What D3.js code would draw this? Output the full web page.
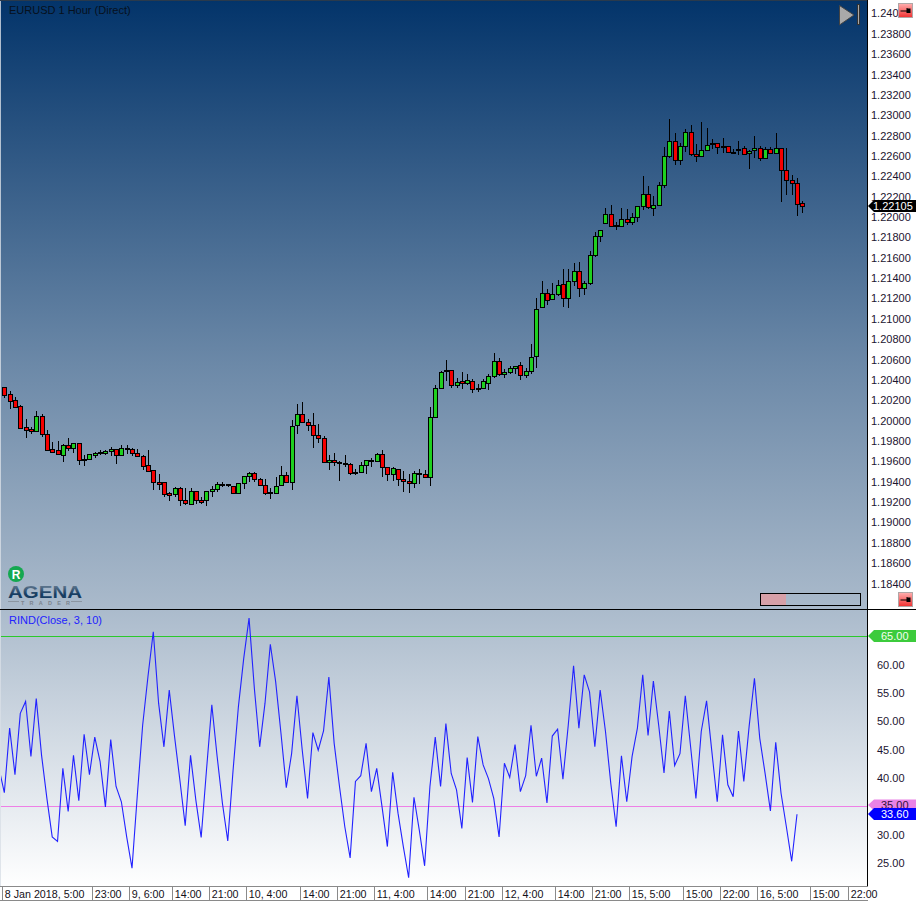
<!DOCTYPE html>
<html><head><meta charset="utf-8">
<style>
html,body{margin:0;padding:0;background:#fff}
svg{display:block}
text{font-family:"Liberation Sans",Arial,sans-serif}
</style>
<script src="https://cdn.jsdelivr.net/npm/d3@7/dist/d3.min.js"></script>
</head><body><svg id="c" width="916" height="901"></svg>
<script>
const opens=[1.20327,1.20258,1.20199,1.20140,1.19934,1.19914,1.19901,1.20042,1.19865,1.19718,1.19708,1.19665,1.19757,1.19728,1.19777,1.19626,1.19626,1.19665,1.19688,1.19679,1.19698,1.19718,1.19665,1.19728,1.19718,1.19685,1.19656,1.19561,1.19512,1.19394,1.19394,1.19286,1.19282,1.19335,1.19217,1.19178,1.19305,1.19217,1.19217,1.19305,1.19325,1.19374,1.19374,1.19361,1.19286,1.19384,1.19453,1.19482,1.19424,1.19365,1.19296,1.19286,1.19365,1.19463,1.19394,1.19954,1.20062,1.19983,1.19954,1.19856,1.19826,1.19591,1.19610,1.19591,1.19581,1.19571,1.19482,1.19499,1.19561,1.19610,1.19600,1.19669,1.19541,1.19473,1.19522,1.19424,1.19404,1.19384,1.19482,1.19473,1.19443,1.20039,1.20317,1.20494,1.20494,1.20347,1.20386,1.20366,1.20386,1.20317,1.20317,1.20366,1.20435,1.20582,1.20455,1.20474,1.20514,1.20543,1.20445,1.20484,1.20632,1.21113,1.21250,1.21191,1.21241,1.21339,1.21201,1.21375,1.21473,1.21299,1.21349,1.21624,1.21817,1.21944,1.22026,1.21918,1.21908,1.21977,1.21948,1.21997,1.22105,1.22223,1.22085,1.22115,1.22311,1.22596,1.22743,1.22557,1.22694,1.22832,1.22616,1.22596,1.22655,1.22724,1.22724,1.22694,1.22694,1.22642,1.22665,1.22674,1.22625,1.22655,1.22674,1.22576,1.22665,1.22625,1.22674,1.22458,1.22360,1.22331,1.22134];
const closes=[1.20255,1.20196,1.20137,1.19931,1.19911,1.19901,1.20042,1.19865,1.19715,1.19695,1.19675,1.19757,1.19728,1.19777,1.19616,1.19616,1.19669,1.19679,1.19679,1.19698,1.19718,1.19665,1.19728,1.19718,1.19685,1.19656,1.19557,1.19508,1.19394,1.19381,1.19282,1.19272,1.19335,1.19217,1.19187,1.19305,1.19217,1.19204,1.19305,1.19325,1.19374,1.19365,1.19365,1.19286,1.19384,1.19453,1.19482,1.19424,1.19365,1.19286,1.19286,1.19355,1.19463,1.19394,1.19944,1.20062,1.19983,1.19954,1.19856,1.19826,1.19591,1.19610,1.19591,1.19581,1.19571,1.19482,1.19499,1.19561,1.19610,1.19600,1.19669,1.19541,1.19473,1.19532,1.19424,1.19404,1.19384,1.19482,1.19473,1.19443,1.20032,1.20317,1.20474,1.20484,1.20347,1.20376,1.20366,1.20396,1.20307,1.20307,1.20386,1.20435,1.20582,1.20455,1.20474,1.20514,1.20533,1.20445,1.20484,1.20622,1.21100,1.21250,1.21188,1.21241,1.21329,1.21201,1.21375,1.21473,1.21299,1.21349,1.21624,1.21810,1.21869,1.22026,1.21915,1.21908,1.21977,1.21948,1.21997,1.22105,1.22223,1.22095,1.22115,1.22311,1.22596,1.22743,1.22557,1.22694,1.22832,1.22616,1.22596,1.22655,1.22704,1.22714,1.22684,1.22684,1.22635,1.22632,1.22655,1.22616,1.22645,1.22674,1.22576,1.22665,1.22625,1.22674,1.22458,1.22360,1.22331,1.22124,1.22105];
const highs=[1.20327,1.20287,1.20229,1.20150,1.20012,1.19940,1.20091,1.20065,1.19904,1.19790,1.19800,1.19773,1.19826,1.19783,1.19777,1.19662,1.19669,1.19688,1.19708,1.19708,1.19741,1.19718,1.19757,1.19757,1.19728,1.19718,1.19662,1.19711,1.19512,1.19472,1.19400,1.19302,1.19351,1.19351,1.19335,1.19335,1.19312,1.19253,1.19312,1.19361,1.19400,1.19394,1.19378,1.19361,1.19384,1.19453,1.19499,1.19499,1.19433,1.19424,1.19335,1.19450,1.19555,1.19492,1.20003,1.20160,1.20180,1.20013,1.20072,1.19964,1.19846,1.19659,1.19679,1.19607,1.19659,1.19587,1.19522,1.19594,1.19610,1.19630,1.19686,1.19708,1.19541,1.19541,1.19522,1.19505,1.19473,1.19509,1.19522,1.19515,1.20131,1.20350,1.20488,1.20592,1.20494,1.20416,1.20474,1.20455,1.20406,1.20357,1.20406,1.20455,1.20661,1.20612,1.20504,1.20533,1.20540,1.20573,1.20514,1.20749,1.21201,1.21368,1.21290,1.21349,1.21378,1.21486,1.21486,1.21545,1.21555,1.21368,1.21663,1.21853,1.21872,1.22088,1.22118,1.21948,1.22088,1.22079,1.22036,1.22105,1.22403,1.22301,1.22206,1.22344,1.22684,1.22963,1.22825,1.22724,1.22861,1.22904,1.22717,1.22933,1.22871,1.22766,1.22724,1.22776,1.22694,1.22665,1.22743,1.22694,1.22658,1.22792,1.22694,1.22684,1.22684,1.22825,1.22674,1.22674,1.22413,1.22380,1.22154];
const lows=[1.20222,1.20117,1.20127,1.19931,1.19829,1.19868,1.19891,1.19842,1.19715,1.19682,1.19665,1.19593,1.19701,1.19682,1.19564,1.19554,1.19613,1.19636,1.19665,1.19662,1.19652,1.19574,1.19665,1.19675,1.19652,1.19639,1.19515,1.19508,1.19318,1.19318,1.19253,1.19210,1.19253,1.19164,1.19171,1.19178,1.19181,1.19184,1.19161,1.19253,1.19302,1.19352,1.19352,1.19286,1.19286,1.19329,1.19401,1.19401,1.19361,1.19270,1.19234,1.19280,1.19358,1.19384,1.19319,1.19869,1.19974,1.19902,1.19735,1.19777,1.19591,1.19515,1.19555,1.19407,1.19548,1.19469,1.19466,1.19482,1.19476,1.19541,1.19591,1.19450,1.19410,1.19410,1.19358,1.19302,1.19293,1.19335,1.19378,1.19437,1.19361,1.20029,1.20307,1.20389,1.20324,1.20317,1.20307,1.20347,1.20275,1.20285,1.20314,1.20304,1.20415,1.20435,1.20422,1.20458,1.20458,1.20399,1.20419,1.20455,1.20520,1.21110,1.21136,1.21191,1.21227,1.21119,1.21110,1.21326,1.21218,1.21234,1.21332,1.21604,1.21758,1.21938,1.21908,1.21872,1.21899,1.21918,1.21925,1.21954,1.22069,1.22075,1.22010,1.22105,1.22282,1.22576,1.22511,1.22511,1.22642,1.22596,1.22540,1.22593,1.22652,1.22665,1.22622,1.22632,1.22632,1.22625,1.22609,1.22606,1.22471,1.22576,1.22553,1.22573,1.22616,1.22619,1.22147,1.22219,1.22216,1.22010,1.22039];
const rind=[41.7,37.4,48.8,40.6,51.4,53.5,43.8,54.0,44.0,36.4,29.6,28.8,41.7,34.1,44.0,36.0,47.7,40.6,47.2,42.9,34.9,46.8,38.5,35.8,29.6,24.1,37.0,49.3,57.9,65.8,53.2,45.5,55.5,47.3,39.6,31.6,44.0,36.1,29.5,41.4,52.9,43.8,35.5,28.9,41.4,52.6,61.1,68.2,55.8,45.5,53.2,63.6,57.0,47.9,38.3,44.3,54.5,44.9,36.4,48.0,44.9,48.3,57.8,46.1,38.5,31.4,25.9,39.4,40.4,46.1,37.6,41.7,34.9,27.9,41.0,33.8,27.9,22.4,36.6,30.8,24.5,38.5,47.2,38.5,49.6,40.8,37.9,31.1,43.6,35.7,47.3,42.3,39.9,36.4,29.6,42.6,40.1,45.9,37.6,40.4,49.3,40.3,43.5,35.6,47.4,48.6,39.8,49.3,59.8,48.8,58.2,55.2,45.5,55.5,48.2,39.0,31.4,43.9,35.8,43.8,48.8,58.2,47.5,57.1,49.3,40.9,51.8,42.2,44.3,54.5,45.5,36.4,48.2,53.6,44.6,35.8,47.6,38.8,36.7,48.3,39.4,49.1,57.6,47.0,40.8,34.2,46.3,37.3,31.4,25.3,33.6];
const priceTicks=d3.range(0,29).map(i=>+(1.184+i*0.002).toFixed(3));
const rindTicks=[25,30,40,45,50,55,60];
const timeTickIndex=[0,17,24,32,39,46,56,63,70,80,87,94,104,111,118,128,135,142,152,159];
const timeTickLabels=["8 Jan 2018, 5:00","23:00","9, 6:00","14:00","21:00","10, 4:00","14:00","21:00","11, 4:00","14:00","21:00","12, 4:00","14:00","21:00","15, 5:00","15:00","22:00","16, 5:00","15:00","22:00"];
const levels=[{v:65,c:"#2bc92b",tag:"#3ccb3c",t:"#f4fff0"},{v:35,c:"#ee7fe6",tag:"#ea82e6",t:"#30103a"}];
const lastPrice=1.22105, lastRind=33.60;
const titleText="EURUSD 1 Hour (Direct)", rindTitle="RIND(Close, 3, 10)";

const svg=d3.select("#c");
const defs=svg.append("defs");
function grad(id,stops){const g=defs.append("linearGradient").attr("id",id).attr("x1",0).attr("y1",0).attr("x2",0).attr("y2",1);
 stops.forEach(s=>g.append("stop").attr("offset",s[0]).attr("stop-color",s[1]));}
grad("gTop",[[0,"#03346a"],[0.6,"#6c89a8"],[1,"#aabacb"]]);
grad("gBot",[[0,"#abbbcc"],[1,"#ffffff"]]);
grad("gBtn",[[0,"#ffb0b0"],[1,"#f03030"]]);
grad("gLogo",[[0,"#6d8296"],[0.6,"#173d62"],[1,"#173d62"]]);
defs.append("clipPath").attr("id","pc").append("rect").attr("x",1).attr("y",610).attr("width",866).attr("height",276);

const x=d3.scaleLinear().domain([0,150]).range([4.33,802.33]);
const yP=d3.scaleLinear().domain([1.184,1.24]).range([583.5,13.4]);
const yR=d3.scaleLinear().domain([25,65]).range([863,636.3]);

svg.append("rect").attr("width",916).attr("height",901).attr("fill","#fff");
svg.append("rect").attr("x",0).attr("y",0).attr("width",867).attr("height",609).attr("fill","url(#gTop)");
svg.append("rect").attr("x",0).attr("y",610).attr("width",867).attr("height",277).attr("fill","url(#gBot)");
svg.append("rect").attr("x",0).attr("y",0).attr("width",1).attr("height",887).attr("fill","#d8dfe6").attr("opacity",.8);
svg.append("rect").attr("x",0).attr("y",0).attr("width",867).attr("height",1).attr("fill","#2a3a4c");

// y axes
const axP=svg.append("g").attr("transform","translate(868,0)")
 .call(d3.axisRight(yP).tickValues(priceTicks).tickFormat(d3.format(".5f")).tickSize(0).tickPadding(3));
const axR=svg.append("g").attr("transform","translate(868,0)")
 .call(d3.axisRight(yR).tickValues(rindTicks).tickFormat(d3.format(".2f")).tickSize(0).tickPadding(9));
[axP,axR].forEach(a=>{a.select(".domain").remove();a.selectAll("text").attr("font-size",11).attr("font-family",'"Liberation Sans",Arial,sans-serif').attr("fill","#1c1430");});

// frame lines
svg.append("line").attr("x1",867.5).attr("x2",867.5).attr("y1",0).attr("y2",887).attr("stroke","#000");
svg.append("line").attr("x1",0).attr("x2",916).attr("y1",609.5).attr("y2",609.5).attr("stroke","#000");

// candles
const idx=d3.range(opens.length);
const cg=svg.append("g");
cg.selectAll("line").data(idx).join("line")
 .attr("x1",i=>Math.round(x(i))+.5).attr("x2",i=>Math.round(x(i))+.5)
 .attr("y1",i=>Math.round(yP(highs[i]))).attr("y2",i=>Math.round(yP(lows[i])))
 .attr("stroke","#000");
cg.selectAll("rect").data(idx).join("rect")
 .attr("x",i=>Math.round(x(i))-1.5).attr("width",4)
 .attr("y",i=>Math.round(yP(Math.max(opens[i],closes[i])))+.5)
 .attr("height",i=>Math.max(1,Math.round(yP(Math.min(opens[i],closes[i])))-Math.round(yP(Math.max(opens[i],closes[i])))))
 .attr("fill",i=>closes[i]>=opens[i]?"#1fd01f":"#f50000")
 .attr("stroke","#000");

// indicator
const plot=svg.append("g").attr("clip-path","url(#pc)");
levels.forEach(l=>plot.append("line").attr("x1",0).attr("x2",867).attr("y1",Math.round(yR(l.v))+.5).attr("y2",Math.round(yR(l.v))+.5).attr("stroke",l.c));
plot.append("path").attr("d",d3.line().x((d,i)=>x(i-1)).y(d=>yR(d))(rind)).attr("fill","none").attr("stroke","#2222ff").attr("stroke-width",1.1);

// x axis
const axX=svg.append("g").attr("transform","translate(0,887)")
 .call(d3.axisBottom(x).tickValues(timeTickIndex).tickFormat((d,i)=>timeTickLabels[i]).tickSize(0).tickPadding(0));
axX.select(".domain").remove();
axX.selectAll(".tick").each(function(d){
 const t=d3.select(this), step=x(1)-x(0);
 t.attr("transform",`translate(${Math.round(x(d)-step/2)+.5},0)`);
 t.select("line").attr("y1",0).attr("y2",13).attr("stroke","#8a8a8a");
 t.select("text").attr("text-anchor","start").attr("x",2.3).attr("y",11).attr("dy",0)
  .attr("font-size",10.7).attr("font-family",'"Liberation Sans",Arial,sans-serif').attr("fill","#141018");
});
svg.append("line").attr("x1",0).attr("x2",868).attr("y1",886.5).attr("y2",886.5).attr("stroke","#8a8a8a");
svg.append("line").attr("x1",0).attr("x2",868).attr("y1",900.5).attr("y2",900.5).attr("stroke","#8a8a8a");

// tags
function tag(yc,fill,txt,col,h){
 const yy=Math.round(yc), w=h/2;
 svg.append("path").attr("d",`M868,${yy} L874,${yy-w} L916,${yy-w} L916,${yy+w} L874,${yy+w} Z`).attr("fill",fill);
 svg.append("text").attr("x",881).attr("y",yy+4).attr("font-size",11).attr("fill",col).text(txt);
}
tag(yR(65),levels[0].tag,"65.00",levels[0].t,12);
tag(yR(35)-1,levels[1].tag,"35.00",levels[1].t,11);
tag(yR(lastRind),"#0000ff",lastRind.toFixed(2),"#ffffff",12);
{const yy=Math.round(yP(lastPrice));
 svg.append("path").attr("d",`M868,${yy} L874,${yy-6} L916,${yy-6} L916,${yy+6} L874,${yy+6} Z`).attr("fill","#000");
 svg.append("text").attr("x",873).attr("y",yy+4).attr("font-size",11).attr("fill","#fff").text(lastPrice.toFixed(5));}

// titles
svg.append("text").attr("x",9).attr("y",14).attr("font-size",11).attr("fill","#06101c").text(titleText);
svg.append("text").attr("x",9).attr("y",624).attr("font-size",11).attr("fill","#2222ff").text(rindTitle);

// play button
svg.append("path").attr("d","M839.5,5.5 L854,15 L839.5,25 Z").attr("fill","#a9a9a9").attr("stroke","#444");
svg.append("rect").attr("x",857.5).attr("y",4.5).attr("width",2).attr("height",20).attr("fill","#a9a9a9").attr("stroke","#333");

// pin buttons
function pin(bx,by){
 const g=svg.append("g").attr("transform",`translate(${bx},${by})`);
 g.append("rect").attr("x",.5).attr("y",.5).attr("width",14).attr("height",14).attr("fill","url(#gBtn)").attr("stroke","#b0a6a6");
 g.append("path").attr("d","M2.5 8H9 M9 5V10").attr("stroke","#000").attr("fill","none");
 g.append("rect").attr("x",9).attr("y",5.5).attr("width",3.5).attr("height",4.5).attr("fill","#000");
}
pin(898,3); pin(898,592);

// progress bar
svg.append("rect").attr("x",761).attr("y",594).attr("width",25).attr("height",11).attr("fill","#d7a0a8");
svg.append("rect").attr("x",760.5).attr("y",593.5).attr("width",100).attr("height",12).attr("fill","none").attr("stroke","#000");

// logo
svg.append("circle").attr("cx",16).attr("cy",574).attr("r",8).attr("fill","#14a850");
svg.append("text").attr("x",16).attr("y",578.5).attr("text-anchor","middle").attr("font-size",12).attr("font-weight","bold").attr("fill","#fff").text("R");
svg.append("text").attr("x",8).attr("y",598).attr("font-size",16).attr("font-weight","bold").attr("textLength",74).attr("lengthAdjust","spacingAndGlyphs").attr("fill","url(#gLogo)").text("AGENA");
svg.append("text").attr("x",21).attr("y",605).attr("font-size",5.5).attr("font-weight","bold").attr("textLength",49).attr("fill","#7c8590").text("TRADER");
[[8,19],[71,82]].forEach(s=>svg.append("line").attr("x1",s[0]).attr("x2",s[1]).attr("y1",601.5).attr("y2",601.5).attr("stroke","#8b96a2"));
</script></body></html>
